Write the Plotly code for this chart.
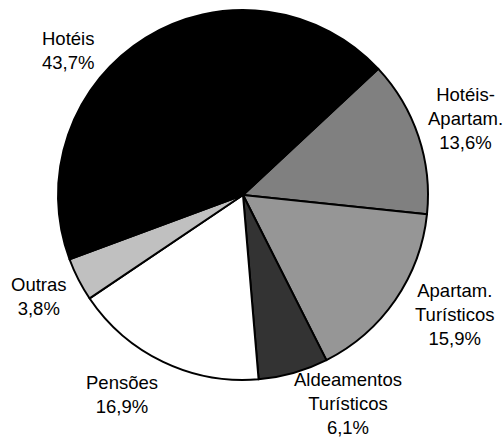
import plotly.graph_objects as go

# slice order, clockwise from the Hotéis / Hotéis-Apartam. boundary
labels = ["Hotéis-<br>Apartam.", "Apartam.<br>Turísticos", "Aldeamentos<br>Turísticos",
          "Pensões", "Outras", "Hotéis"]
shares = [13.6, 15.9, 6.1, 16.9, 3.8, 43.7]
colors = ["#808080", "#969696", "#333333", "#ffffff", "#c0c0c0", "#000000"]

# where each label block sits (paper coords), same order as labels
label_pos = [(0.9245, 0.729), (0.9046, 0.2825), (0.6918, 0.080),
             (0.2425, 0.1025), (0.0775, 0.3235), (0.1352, 0.8861)]

fig = go.Figure(go.Pie(
    labels=labels,
    values=shares,
    sort=False,
    direction="clockwise",
    rotation=47,
    marker=dict(colors=colors, line=dict(color="#000000", width=2)),
    textinfo="none",
    domain=dict(x=[0.1153, 0.8509], y=[0.1344, 0.9772]),
    automargin=False,
    hoverinfo="label+percent",
))

# slice labels, placed like the original (outside, no leader lines)
for lab, val, (px, py) in zip(labels, shares, label_pos):
    pct = f"{val:.1f}".replace(".", ",") + "%"
    fig.add_annotation(
        x=px, y=py, xref="paper", yref="paper",
        text=f"{lab}<br>{pct}",
        showarrow=False, align="center", xanchor="center", yanchor="middle",
        font=dict(family="Liberation Sans, Arial, sans-serif", size=18.5, color="#000000"),
    )

fig.update_layout(
    width=503, height=439,
    margin=dict(l=0, r=0, t=0, b=0, autoexpand=False),
    paper_bgcolor="white",
    showlegend=False,
)

# drop the browser's default body margin so the figure fills the window
fig.write_html("out.html", config={"displayModeBar": False},
               post_script="document.body.style.margin = '0';")
